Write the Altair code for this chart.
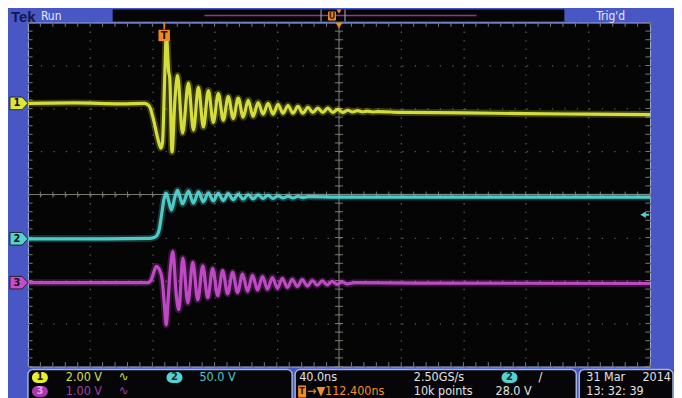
import altair as alt
import pandas as pd

# ---------------- data (time in ns from screen centre, amplitude in divisions) ----------------
ch1_t = [-200, -170, -140, -125, -122, -119, -116.5, -114.5, -113.5, -112, -111, -110.2, -109.6,
         -108.8, -107.4, -105.5, -103.8, -100.6, -96.8, -93.6, -90.4, -87.2, -84.0, -80.8, -77.6,
         -74.4, -71.2, -68.0, -64.8, -61.6, -58.4, -55.2, -52.0, -48.8, -45.6, -42.4, -39.2, -36.0,
         -32.8, -29.6, -26.4, -23.2, -20.0, -16.8, -13.6, -10.4, -7.2, -4.0, -0.8, 2.4, 5.6, 8.8,
         12.0, 15.2, 18.4, 21.6, 25, 40, 80, 120, 160, 200]
ch1_v = [2.12, 2.13, 2.11, 2.12, 2.06, 1.70, 1.30, 1.08, 1.20, 2.80, 3.74, 3.30, 2.89,
         2.70, 0.99, 2.20, 2.77, 1.43, 2.59, 1.50, 2.49, 1.57, 2.42, 1.68, 2.35,
         1.73, 2.28, 1.77, 2.24, 1.80, 2.19, 1.82, 2.14, 1.87, 2.12, 1.87, 2.10, 1.89,
         2.07, 1.89, 2.05, 1.89, 2.03, 1.91, 2.01, 1.91, 2.01, 1.91, 1.98, 1.91, 1.96, 1.92,
         1.95, 1.92, 1.94, 1.92, 1.93, 1.91, 1.90, 1.88, 1.87, 1.86]

ch2_t = [-200, -150, -122, -119, -117, -115.5, -114, -112.5, -111, -109.5, -107.7, -105.5,
         -103.8, -100.6, -96.8, -93.6, -90.4, -87.2, -84.0, -80.8, -77.6, -74.4, -71.2, -68.0,
         -64.8, -61.6, -58.4, -55.2, -52.0, -48.8, -45.6, -42.4, -39.2, -36.0, -32.8, -29.6,
         -26.4, -23.2, -20, 0, 100, 200]
ch2_v = [-1.03, -1.03, -1.02, -1.00, -0.95, -0.80, -0.45, -0.10, 0.03, -0.15, -0.36, -0.05,
         0.10, -0.22, 0.08, -0.20, 0.06, -0.17, 0.04, -0.15, 0.03, -0.14, 0.02, -0.12,
         0.01, -0.11, 0.00, -0.10, -0.01, -0.09, -0.02, -0.09, -0.03, -0.08, -0.04, -0.08,
         -0.04, -0.07, -0.05, -0.06, -0.06, -0.06]

ch3_t = [-200, -150, -123, -121, -119, -117.5, -115.4, -113.7, -112.2, -111.1, -109.8, -108.5,
         -106.8, -104.7, -103.0, -100.4, -97.2, -94.0, -90.8, -87.6, -84.4, -81.2, -78.0, -74.8,
         -71.6, -68.4, -65.2, -62.0, -58.8, -55.6, -52.4, -49.2, -46.0, -42.8, -39.6, -36.4,
         -33.2, -30.0, -26.8, -23.6, -20.4, -17.2, -14.0, -10.8, -7.6, -4.4, -1.2, 2.0, 5.2,
         10, 50, 200]
ch3_v = [-2.05, -2.05, -2.05, -2.00, -1.80, -1.67, -1.75, -1.98, -2.60, -3.03, -2.40, -1.75,
         -1.33, -2.30, -2.68, -1.48, -2.52, -1.58, -2.45, -1.66, -2.40, -1.72, -2.35, -1.77,
         -2.31, -1.81, -2.28, -1.85, -2.25, -1.88, -2.22, -1.91, -2.20, -1.93, -2.18, -1.95,
         -2.16, -1.97, -2.14, -1.98, -2.13, -2.00, -2.11, -2.01, -2.10, -2.02, -2.09, -2.03, -2.08,
         -2.05, -2.06, -2.07]

channels = ["1", "2", "3"]
channel_colors = ["#dce63c", "#52d3cf", "#c74ccd"]
channel_levels = [2.12, -1.03, -2.05]       # ground markers on the left edge
trigger_time = -112.4                         # T marker
trigger_level = -0.47                         # ch2 trigger level arrow
grid_x = [-200, -160, -120, -80, -40, 0, 40, 80, 120, 160, 200]
grid_y = [-4, -3, -2, -1, 0, 1, 2, 3, 4]

rows = []
for ch, ts, vs in [("1", ch1_t, ch1_v), ("2", ch2_t, ch2_v), ("3", ch3_t, ch3_v)]:
    for t, v in zip(ts, vs):
        rows.append({"ch": ch, "t": t, "v": v})
df = pd.DataFrame(rows)

# graticule minor ticks (every 1/5 division)
minor_t = [-200 + 8 * i for i in range(51)]
minor_v = [round(-4 + 0.2 * i, 2) for i in range(41)]
tick_rows = []
for t in minor_t:
    tick_rows.append({"t": t, "t2": t, "v": -0.07, "v2": 0.07})
    tick_rows.append({"t": t, "t2": t, "v": 4.0, "v2": 3.9})
    tick_rows.append({"t": t, "t2": t, "v": -4.0, "v2": -3.9})
for v in minor_v:
    tick_rows.append({"t": -2.6, "t2": 2.6, "v": v, "v2": v})
    tick_rows.append({"t": -200, "t2": -197, "v": v, "v2": v})
    tick_rows.append({"t": 197, "t2": 200, "v": v, "v2": v})
ticks = pd.DataFrame(tick_rows)

FONT = "'Liberation Sans Narrow', 'DejaVu Sans Condensed', 'Roboto', sans-serif"
xs = alt.Scale(domain=[-200, 200], nice=False, zero=False)
ys = alt.Scale(domain=[-4, 4], nice=False, zero=False)
xaxis = alt.Axis(values=grid_x, grid=True, gridColor="#5a5a5a", gridDash=[1.3, 7.3], gridWidth=1.3,
                 labels=False, ticks=False, domain=False, title=None)
yaxis = alt.Axis(values=grid_y, grid=True, gridColor="#5a5a5a", gridDash=[1.3, 11.2], gridWidth=1.3,
                 labels=False, ticks=False, domain=False, title=None)


def X(f):
    return alt.X(f, type="quantitative", scale=xs, axis=xaxis)


def Y(f):
    return alt.Y(f, type="quantitative", scale=ys, axis=yaxis)


dummy = pd.DataFrame({"a": [0]})


def txt(s, x, y, color, size=12.5, align="left", weight="normal", font=FONT):
    return alt.Chart(dummy).mark_text(text=s, align=align, baseline="middle", fontSize=size,
                                      color=color, font=font, fontWeight=weight).encode(
        x=alt.value(x), y=alt.value(y))


def box(x0, x1, y0, y1, fill, stroke=None, radius=0, sw=1.0):
    kw = dict(fill=fill, cornerRadius=radius)
    if stroke:
        kw.update(stroke=stroke, strokeWidth=sw)
    return alt.Chart(dummy).mark_rect(**kw).encode(
        x=alt.value(x0), x2=alt.value(x1), y=alt.value(y0), y2=alt.value(y1))


color_enc = alt.Color("ch:N", scale=alt.Scale(domain=channels, range=channel_colors), legend=None)

center_v = alt.Chart(pd.DataFrame({"t": [0], "v": [-4], "v2": [4]})).mark_rule(
    color="#7a7a72", strokeWidth=1).encode(x=X("t"), y=Y("v"), y2="v2")
center_h = alt.Chart(pd.DataFrame({"t": [-200], "t2": [200], "v": [0]})).mark_rule(
    color="#7a7a72", strokeWidth=1).encode(x=X("t"), x2="t2", y=Y("v"))
tick_layer = alt.Chart(ticks).mark_rule(color="#7a7a72", strokeWidth=1).encode(
    x=X("t"), x2="t2", y=Y("v"), y2="v2")

glow = alt.Chart(df).mark_line(strokeWidth=7, opacity=0.25, interpolate="monotone").encode(
    x=X("t"), y=Y("v"), color=color_enc, detail="ch:N")
core = alt.Chart(df).mark_line(strokeWidth=3.2, opacity=0.95, interpolate="monotone").encode(
    x=X("t"), y=Y("v"), color=color_enc, detail="ch:N")

# left channel markers
mk = pd.DataFrame({"ch": channels, "v": channel_levels})
markers = alt.Chart(mk).mark_point(
    shape="M-1,-0.7L0.35,-0.7L1,0L0.35,0.7L-1,0.7Z", filled=True, size=324, opacity=1,
    stroke="#111", strokeWidth=0.8).encode(
    x=alt.value(-9), y=Y("v"), color=color_enc)
marker_txt = alt.Chart(mk).mark_text(font=FONT, fontSize=11, fontWeight="bold", color="#111",
                                     align="center", baseline="middle").encode(
    x=alt.value(-11), y=Y("v"), text="ch:N")

# T trigger marker
tdf = pd.DataFrame({"t": [trigger_time]})
t_line = alt.Chart(tdf).mark_rule(color="#f08a24", strokeWidth=1.5).encode(
    x=X("t"), y=alt.value(0), y2=alt.value(7))
t_box = alt.Chart(tdf).mark_point(shape="square", filled=True, size=130, color="#f08a24",
                                  opacity=1).encode(x=X("t"), y=alt.value(13))
t_txt = alt.Chart(tdf).mark_text(text="T", font=FONT, fontSize=11, fontWeight="bold",
                                 color="#2a1200").encode(x=X("t"), y=alt.value(13.5))

# trigger position triangle (screen centre)
pos = alt.Chart(pd.DataFrame({"t": [0]})).mark_point(shape="triangle-down", filled=True, size=45,
                                                     color="#f08a24", opacity=1).encode(
    x=X("t"), y=alt.value(3))

# trigger level arrow
lvl_df = pd.DataFrame({"v": [trigger_level]})
lvl_head = alt.Chart(lvl_df).mark_point(shape="triangle-left", filled=True, size=40,
                                        color="#52d3cf", opacity=1).encode(
    x=alt.value(617), y=Y("v"))
lvl_tail = alt.Chart(lvl_df).mark_rule(color="#52d3cf", strokeWidth=2).encode(
    x=alt.value(617), x2=alt.value(623), y=Y("v"))

# top bar
top = [
    txt("Tek", -17, -6, "#141850", size=15, weight="bold", font="'Liberation Sans', Arial, sans-serif"),
    txt("Run", 13, -6.5, "#e6e8f4", size=12),
    box(85, 538, -13, -1, "#050505"),
    alt.Chart(dummy).mark_rule(color="#9a3098", strokeWidth=1.5).encode(
        x=alt.value(177), x2=alt.value(450), y=alt.value(-7)),
    alt.Chart(dummy).mark_rule(color="#b0b0b0", strokeWidth=1).encode(
        x=alt.value(294), y=alt.value(-13), y2=alt.value(-1)),
    alt.Chart(dummy).mark_rule(color="#b0b0b0", strokeWidth=1).encode(
        x=alt.value(318), y=alt.value(-13), y2=alt.value(-1)),
    box(301, 309, -11, -2, "#f08a24", radius=1),
    txt("U", 305, -6.5, "#3a1a00", size=9, align="center", weight="bold"),
    alt.Chart(dummy).mark_point(shape="triangle-down", filled=True, size=25, color="#f08a24",
                                opacity=1).encode(x=alt.value(312), y=alt.value(-11)),
    txt("Trig'd", 570, -6.5, "#e6e8f4", size=12),
]

# bottom panels
bot_stroke = "#9fb2e2"
bottom = [
    box(0, 265, 348, 390, "#060608", bot_stroke, radius=5, sw=1.5),
    box(268, 550, 348, 390, "#060608", bot_stroke, radius=5, sw=1.5),
    box(553, 647, 348, 390, "#060608", bot_stroke, radius=5, sw=1.5),
    box(4, 20, 350.5, 361.5, "#e6ee30", radius=6),
    txt("1", 12, 356, "#202000", size=11, align="center", weight="bold"),
    txt("2.00 V", 38, 356, "#d4e04a"),
    txt("∿", 91, 356, "#d4e04a", size=13),
    box(139, 155, 350.5, 361.5, "#52d3cf", radius=6),
    txt("2", 147, 356, "#08302f", size=11, align="center", weight="bold"),
    txt("50.0 V", 172, 356, "#4fc8c8"),
    box(4, 20, 364.5, 375.5, "#a838b0", radius=6),
    txt("3", 12, 370, "#e0a0e8", size=11, align="center", weight="bold"),
    txt("1.00 V", 38, 370, "#a040a8"),
    txt("∿", 91, 370, "#a040a8", size=13),
    txt("40.0ns", 272, 356, "#e2e2e2"),
    txt("2.50GS/s", 387, 356, "#e2e2e2"),
    box(475, 491, 350.5, 361.5, "#52d3cf", radius=6),
    txt("2", 483, 356, "#08302f", size=11, align="center", weight="bold"),
    txt("/", 512, 356, "#e2e2e2", size=13),
    box(271, 279, 364, 376, "#f08a24", radius=1),
    txt("T", 275, 370, "#2a1200", size=9, align="center", weight="bold"),
    txt("→▼112.400ns", 280, 370, "#f0902a"),
    txt("10k points", 387, 370, "#e2e2e2"),
    txt("28.0 V", 469, 370, "#e2e2e2"),
    txt("31 Mar", 560, 356, "#e2e2e2"),
    txt("2014", 645, 356, "#e2e2e2", align="right"),
    txt("13: 32: 39", 560, 370, "#e2e2e2"),
]

chart = alt.layer(
    center_v, center_h, tick_layer, glow, core, markers, marker_txt,
    t_line, t_box, t_txt, pos, lvl_head, lvl_tail, *top, *bottom
).properties(
    width=624, height=345,
    autosize=alt.AutoSizeParams(type="none"),
    padding={"left": 20, "top": 14, "right": 24, "bottom": 31},
    background="#4857c4",
).configure_view(fill="#050505", stroke="#9fb2e2", strokeWidth=1)

chart.save("out.html", embed_options={"renderer": "svg", "actions": False})
